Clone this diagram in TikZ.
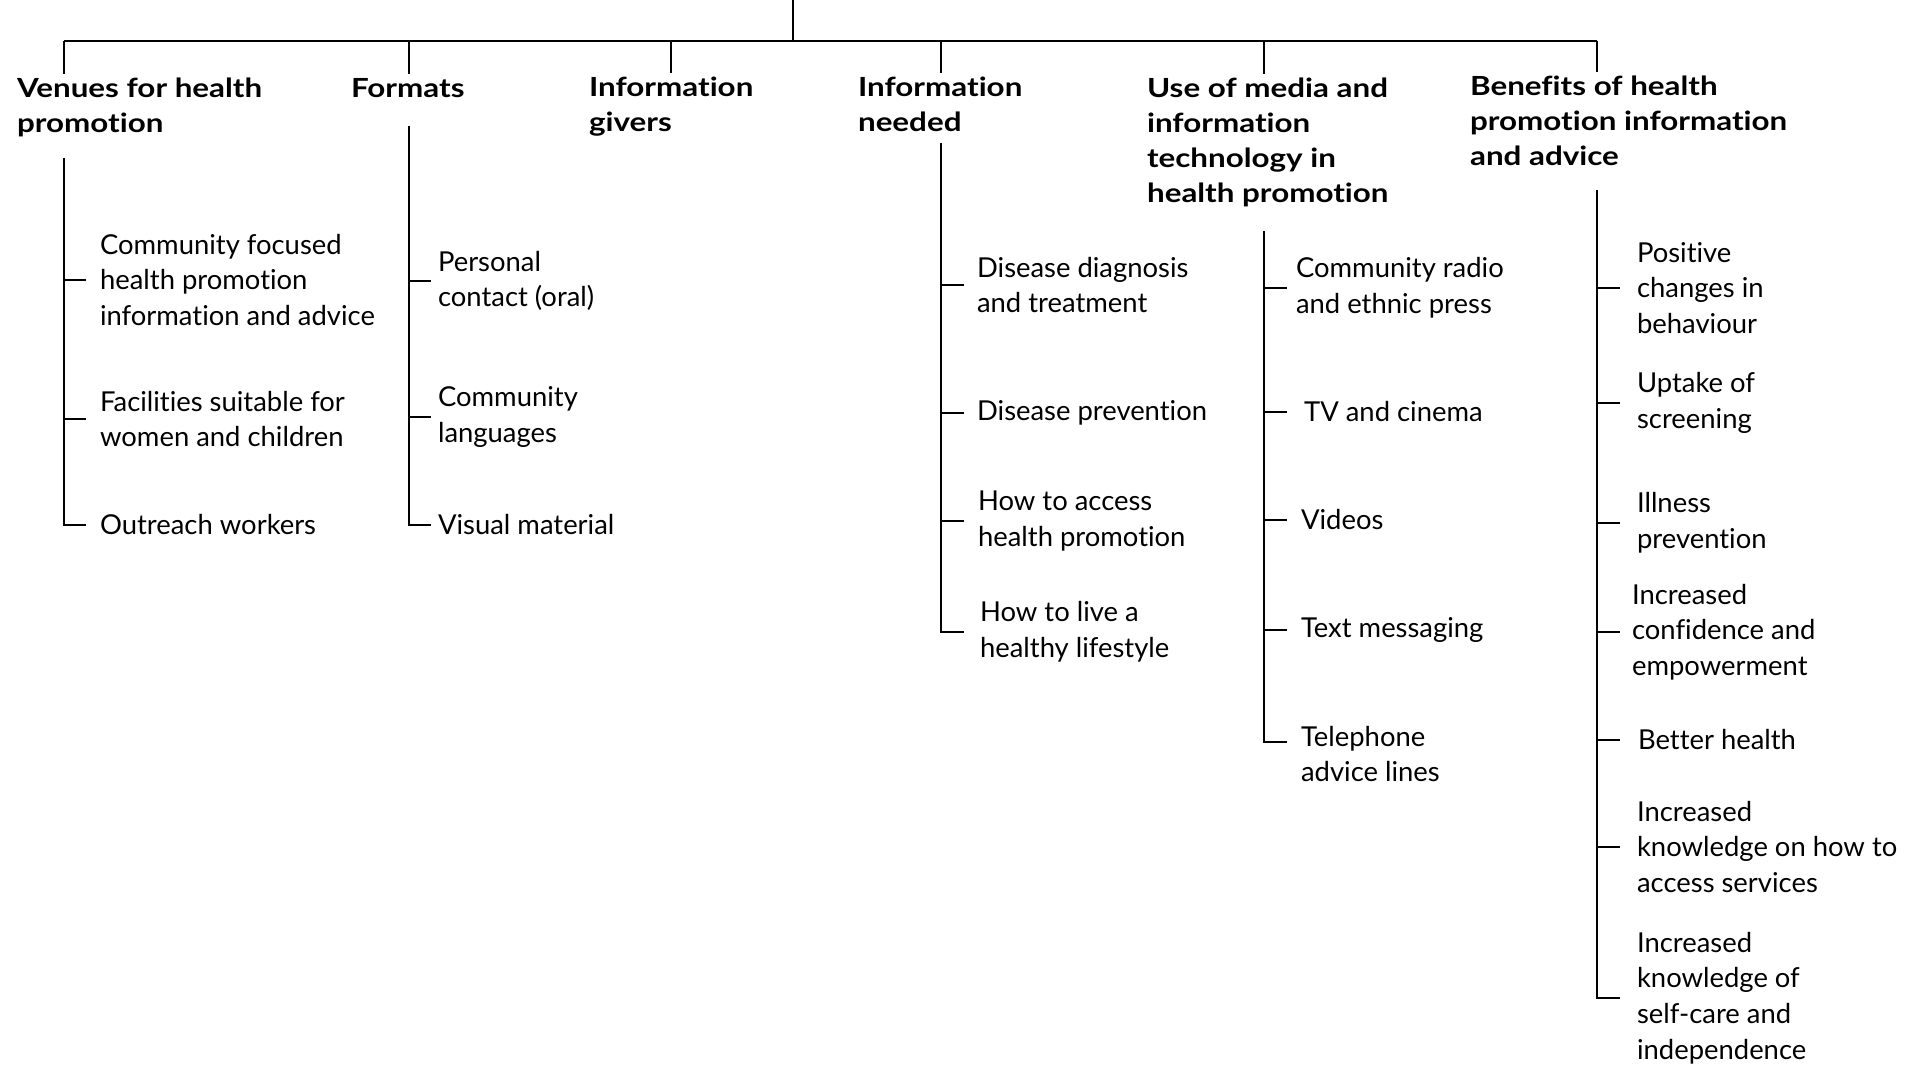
\documentclass[tikz,border=0pt]{standalone}
\usepackage{fontspec}
\setmainfont{Lato}[Ligatures={NoCommon,NoRare}]
\newfontfamily\headfont{Lato}[Ligatures={NoCommon,NoRare},FakeStretch=1.19]
\begin{document}
\begin{tikzpicture}[x=0.02cm,y=-0.02cm,line width=1.2pt,
  head/.style={anchor=north west,inner sep=0pt,align=left,font=\headfont\fontsize{15}{19.9}\selectfont\bfseries},
  item/.style={anchor=west,inner sep=0pt,align=left,font=\fontsize{15.6}{20.3}\selectfont}]
  \useasboundingbox (0,0) rectangle (1928,1067);
  % stem and bar
  \coordinate (root) at (793,0);
  \coordinate (hub) at (793,41);
  \draw (root) -- (hub);
  \foreach \n/\x in {1/64,2/409,3/671,4/941,5/1264,6/1597}{ \coordinate (t\n) at (\x,41); }
  \draw (t1) -- (t6);
  % headings
  \node[head] (h1) at (16,77) {Venues for health\\promotion};
  \node[head] (h2) at (350,77) {Formats};
  \node[head] (h3) at (588,76) {Information\\givers};
  \node[head] (h4) at (857,76) {Information\\needed};
  \node[head] (h5) at (1146,77) {Use of media and\\information\\technology in\\health promotion};
  \node[head] (h6) at (1469,75) {Benefits of health\\promotion information\\and advice};
  \foreach \n in {1,...,6}{ \draw (t\n) -- ([yshift=1.5pt]t\n |- h\n.north); }
  % venues
  \coordinate (s1) at (64,158);
  \node[item] (v1) at (99,280) {Community focused\\health promotion\\information and advice};
  \node[item] (v2) at (99,419) {Facilities suitable for\\women and children};
  \node[item] (v3) at (99,525) {Outreach workers};
  % formats
  \coordinate (s2) at (409,126);
  \node[item] (f1) at (437,281) {Personal\\contact (oral)};
  \node[item] (f2) at (437,417) {Community\\languages};
  \node[item] (f3) at (437,525) {Visual material};
  % information needed
  \coordinate (s4) at (941,143);
  \node[item] (n1) at (976,285) {Disease diagnosis\\and treatment};
  \node[item] (n2) at (976,413) {Disease prevention};
  \node[item] (n3) at (977,521) {How to access\\health promotion};
  \node[item] (n4) at (979,632) {How to live a\\healthy lifestyle};
  % media
  \coordinate (s5) at (1264,231);
  \coordinate (e5) at (1264,742);
  \node[item] (m1) at (1295,288) {Community radio\\and ethnic press};
  \node[item] (m2) at (1303,412) {TV and cinema};
  \node[item] (m3) at (1300,520) {Videos};
  \node[item] (m4) at (1300,630) {Text messaging};
  \node[item] (m5) at (1300,754) {Telephone\\advice lines};
  % benefits
  \coordinate (s6) at (1597,190);
  \node[item] (b1) at (1636,288) {Positive\\changes in\\behaviour};
  \node[item] (b2) at (1636,403) {Uptake of\\screening};
  \node[item] (b3) at (1636,523) {Illness\\prevention};
  \node[item] (b4) at (1631,632) {Increased\\confidence and\\empowerment};
  \node[item] (b5) at (1637,740) {Better health};
  \node[item] (b6) at (1636,847) {Increased\\knowledge on how to\\access services};
  \node[item] (b7) at (1636,998) {Increased\\knowledge of\\self-care and\\independence};
  % spines and ticks
  \draw (s1) -- (s1 |- v3.west) -- ++(22,0);
  \foreach \v in {v1,v2}{ \draw (s1 |- \v.west) -- ++(22,0); }
  \draw (s2) -- (s2 |- f3.west) -- ++(22,0);
  \foreach \v in {f1,f2}{ \draw (s2 |- \v.west) -- ++(22,0); }
  \draw (s4) -- (s4 |- n4.west) -- ++(23,0);
  \foreach \v in {n1,n2,n3}{ \draw (s4 |- \v.west) -- ++(23,0); }
  \draw (s5) -- (e5) -- ++(23,0);
  \foreach \v in {m1,m2,m3,m4}{ \draw (s5 |- \v.west) -- ++(23,0); }
  \draw (s6) -- (s6 |- b7.west) -- ++(23,0);
  \foreach \v in {b1,b2,b3,b4,b5,b6}{ \draw (s6 |- \v.west) -- ++(23,0); }
\end{tikzpicture}
\end{document}
